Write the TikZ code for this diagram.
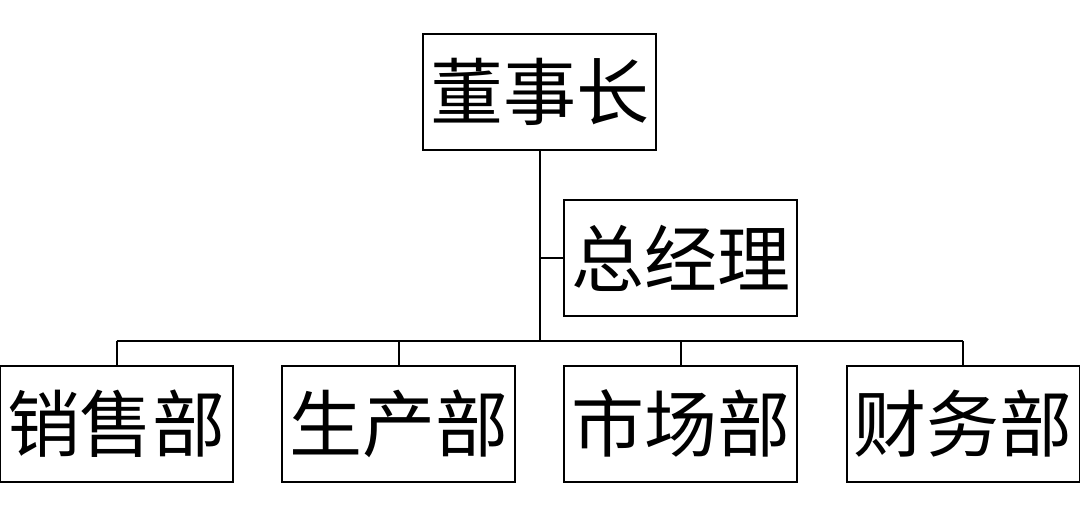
\documentclass[tikz,border=0pt]{standalone}
\usepackage{fontspec}
\newfontfamily\cjk{Noto Sans CJK SC}
\begin{document}
\begin{tikzpicture}[x=1pt,y=-1pt,
  orgbox/.style={draw=black,line width=2pt,minimum width=233pt,minimum height=116pt,inner sep=0pt,font=\cjk\fontsize{73}{80}\selectfont},
  link/.style={draw=black,line width=2pt}]
\useasboundingbox (0,0) rectangle (1080,532);
\node[orgbox] (dsz) at (539.5,92) {董事长};
\node[orgbox] (zjl) at (680.5,258) {总经理};
\node[orgbox] (xs) at (116.5,423.5) {销售部};
\node[orgbox] (sc) at (398.5,423.5) {生产部};
\node[orgbox] (sch) at (680.5,423.5) {市场部};
\node[orgbox] (cw) at (963,423.5) {财务部};
\coordinate (bus) at (539.5,341);
\coordinate (busL) at (116.5,341);
\coordinate (busR) at (963,341);
\draw[link] (dsz.south) -- (bus);
\draw[link] (zjl.west) -- (zjl.west -| dsz.south);
\draw[link] (busL) -- (busR);
\draw[link] (xs.north) -- (xs.north |- bus);
\draw[link] (sc.north) -- (sc.north |- bus);
\draw[link] (sch.north) -- (sch.north |- bus);
\draw[link] (cw.north) -- (cw.north |- bus);
\end{tikzpicture}
\end{document}
